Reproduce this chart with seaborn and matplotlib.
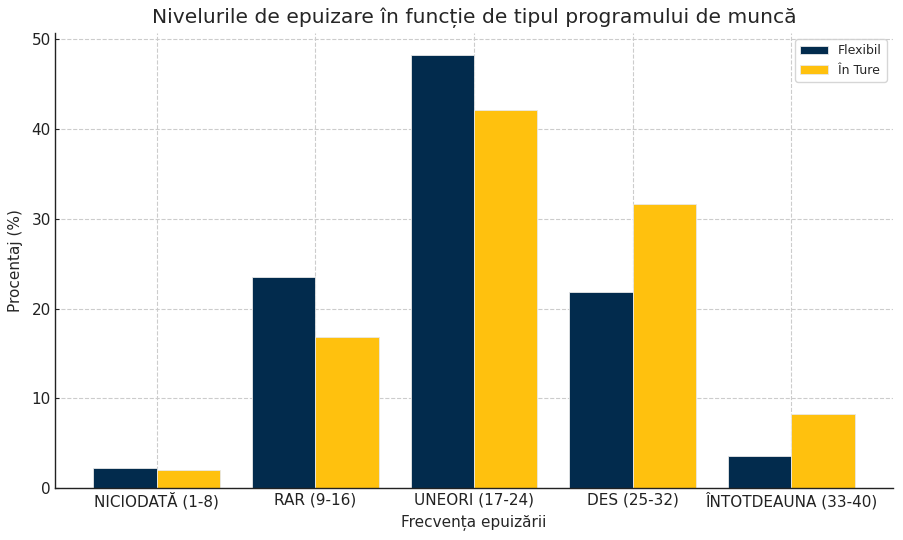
import matplotlib
matplotlib.use("Agg")
import matplotlib.pyplot as plt
import seaborn as sns
import pandas as pd

categories = ["NICIODATĂ (1-8)", "RAR (9-16)", "UNEORI (17-24)", "DES (25-32)", "ÎNTOTDEAUNA (33-40)"]
flexibil = [2.2, 23.5, 48.3, 21.8, 3.6]
in_ture = [2.0, 16.8, 42.1, 31.6, 8.3]
series_names = ["Flexibil", "În Ture"]
colors = ["#022B4D", "#FFC10E"]

df = pd.DataFrame({
    "cat": categories * 2,
    "val": flexibil + in_ture,
    "serie": [series_names[0]] * len(categories) + [series_names[1]] * len(categories),
})

sns.set_style("white")
plt.rcParams['font.family'] = ['DejaVu Sans']
fig = plt.figure(figsize=(9.04, 5.4), dpi=100)
ax = fig.add_axes([55/904, 1 - 488/540, (893-55)/904, (488-33)/540])
sns.barplot(data=df, x="cat", y="val", hue="serie", palette=colors, saturation=1,
            width=0.8, ax=ax, errorbar=None, edgecolor="#e8e8e8", linewidth=0.6)
ax.set_xlim(-0.64, 4.64)
ax.grid(True, linestyle="--", color="#cccccc", linewidth=0.8)
ax.set_axisbelow(True)
for s in ["top", "right"]:
    ax.spines[s].set_visible(False)
for s in ["left", "bottom"]:
    ax.spines[s].set_color("#222222")
    ax.spines[s].set_linewidth(1.0)
ax.tick_params(axis="both", which="both", direction="in", length=3, pad=3,
               colors="#222222", labelsize=11, left=True, bottom=True)
ax.set_xlabel("Frecvența epuizării", fontsize=11, labelpad=4)
ax.set_ylabel("Procentaj (%)", fontsize=11, labelpad=6)
ax.set_title("Nivelurile de epuizare în funcție de tipul programului de muncă", fontsize=14.6, pad=7)
ax.legend(title=None, loc="upper right", fontsize=9, handlelength=2.2)
fig.savefig("out.png", dpi=100)
